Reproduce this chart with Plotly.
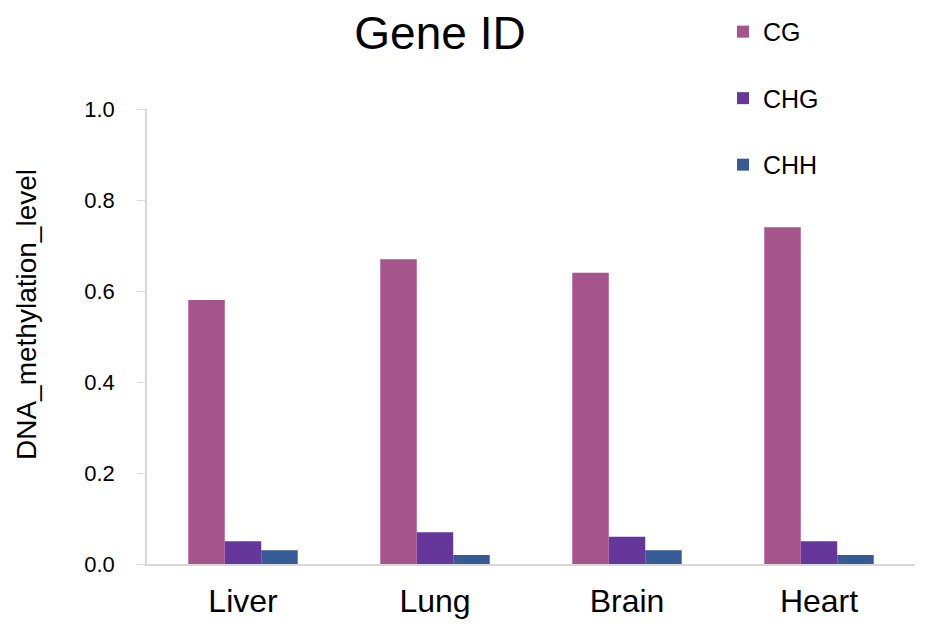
import plotly.graph_objects as go

tissues = ["Liver", "Lung", "Brain", "Heart"]
cg = [0.58, 0.67, 0.64, 0.74]
chg = [0.05, 0.07, 0.06, 0.05]
chh = [0.03, 0.02, 0.03, 0.02]
series_names = ["CG", "CHG", "CHH"]
colors = ["#A5548C", "#66379A", "#355A95"]
y_ticks = [0.0, 0.2, 0.4, 0.6, 0.8, 1.0]
y_tick_labels = ["0.0", "0.2", "0.4", "0.6", "0.8", "1.0"]

FONT = "Liberation Sans, Arial, sans-serif"

fig = go.Figure()
for name, vals, col in zip(series_names, [cg, chg, chh], colors):
    fig.add_trace(go.Bar(x=tissues, y=vals, name=name, marker_color=col,
                         marker_line_width=0, legendgroup=name))

fig.update_layout(
    width=926, height=628,
    paper_bgcolor="white", plot_bgcolor="white",
    margin=dict(l=139, r=19, t=101, b=72, autoexpand=False),
    barmode="group", bargap=0.43, bargroupgap=0,
    title=dict(text="Gene ID", font=dict(family=FONT, size=46, color="black"),
               x=432/926, xref="container", xanchor="center",
               y=1-25/628, yref="container", yanchor="middle"),
    legend=dict(x=0.750, xanchor="left", y=1.22, yanchor="top",
                font=dict(family=FONT, size=25, color="black"),
                tracegroupgap=31, itemwidth=30, bgcolor="rgba(0,0,0,0)"),
    font=dict(family=FONT, color="black"),
    annotations=[dict(text="DNA_methylation_level", textangle=-90,
                      xref="paper", yref="paper",
                      x=(26-147)/768, y=(564-315)/455,
                      xanchor="center", yanchor="middle", showarrow=False,
                      font=dict(family=FONT, size=28, color="black"))],
)
fig.update_yaxes(range=[0, 1.0], tickvals=y_ticks, ticktext=y_tick_labels,
                 showgrid=False, zeroline=False, automargin=False,
                 showline=True, linecolor="#D9D9D9", linewidth=1.5,
                 ticks="outside", ticklen=8, tickcolor="#D9D9D9",
                 tickfont=dict(family=FONT, size=22, color="black"),
                 ticklabelstandoff=18)
fig.update_xaxes(showgrid=False, showline=True, linecolor="#D9D9D9", linewidth=2,
                 automargin=False,
                 ticks="", tickfont=dict(family=FONT, size=32, color="black"),
                 ticklabelstandoff=8)

fig.write_html("out.html")
